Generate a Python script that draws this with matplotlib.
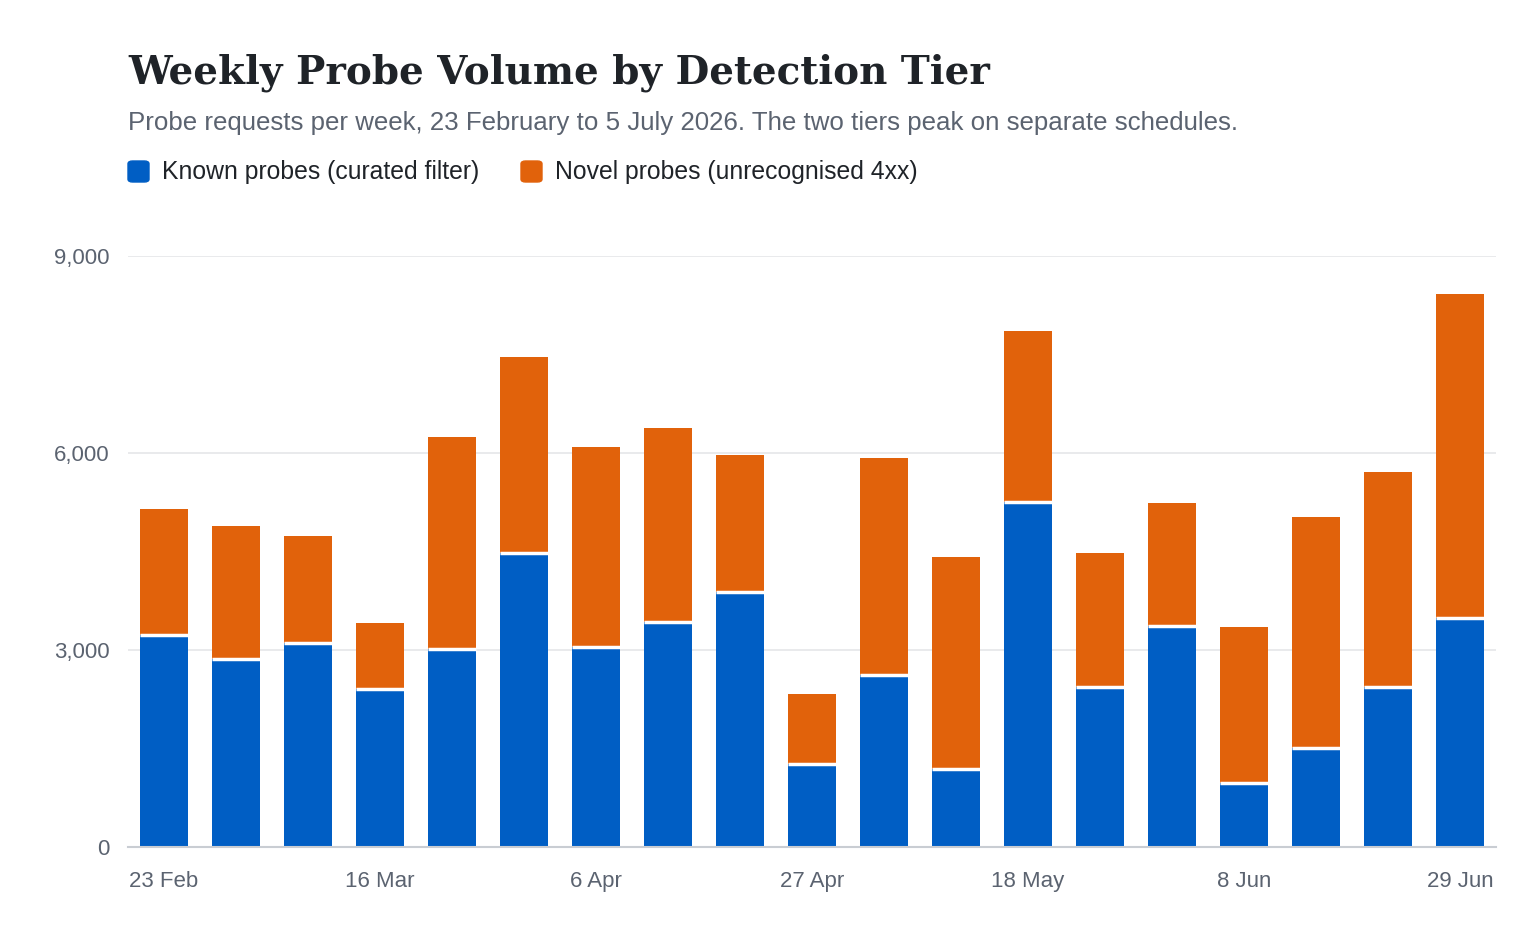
import matplotlib
matplotlib.use('Agg')
import matplotlib.pyplot as plt
from matplotlib.patches import FancyBboxPatch
from matplotlib.ticker import FuncFormatter

# weekly data
weeks = ['23 Feb', '2 Mar', '9 Mar', '16 Mar', '23 Mar', '30 Mar', '6 Apr', '13 Apr',
         '20 Apr', '27 Apr', '4 May', '11 May', '18 May', '25 May', '1 Jun', '8 Jun',
         '15 Jun', '22 Jun', '29 Jun']
known = [3230, 2870, 3110, 2400, 3010, 4470, 3050, 3430, 3890, 1270,
         2620, 1190, 5260, 2430, 3360, 980, 1510, 2440, 3490]
novel = [1920, 2020, 1630, 1010, 3230, 2990, 3040, 2950, 2080, 1060,
         3300, 3230, 2600, 2050, 1880, 2370, 3520, 3270, 4930]
yticks = [0, 3000, 6000, 9000]

BLUE = '#005ec4'
ORANGE = '#e1620b'
GREY = '#5b6370'
SANS = ['Liberation Sans', 'DejaVu Sans']

W, H = 1536, 940
fig = plt.figure(figsize=(W / 100, H / 100), dpi=100)
ax = fig.add_axes([128 / W, 1 - 847 / H, (1496 - 128) / W, (847 - 256) / H])

x = list(range(len(weeks)))
bw = 0.667
ax.bar(x, known, width=bw, color=BLUE, zorder=3)
ax.bar(x, novel, width=bw, bottom=known, color=ORANGE, zorder=3)
# thin white seam between the two tiers
ax.hlines(known, [i - bw / 2 for i in x], [i + bw / 2 for i in x],
          colors='white', linewidth=2.5, zorder=4)

ax.set_xlim(-0.5, len(weeks) - 0.5)
ax.set_ylim(0, 9000)
ax.set_yticks(yticks)
ax.yaxis.set_major_formatter(FuncFormatter(lambda v, p: f'{int(v):,}'))
ax.set_xticks(x[::3])
ax.set_xticklabels(weeks[::3])

for s in ['top', 'right', 'left']:
    ax.spines[s].set_visible(False)
ax.spines['bottom'].set_color('#c9cdd3')
ax.spines['bottom'].set_linewidth(1.5)
ax.spines['bottom'].set_zorder(5)
ax.grid(axis='y', color='#e7e8eb', linewidth=1.3, zorder=0)
ax.tick_params(axis='both', length=0, labelsize=16, labelcolor=GREY)
ax.tick_params(axis='y', pad=13)
ax.tick_params(axis='x', pad=17)
for lab in ax.get_xticklabels() + ax.get_yticklabels():
    lab.set_family(SANS)

# title / subtitle
fig.text(128 / W, 1 - 83 / H, 'Weekly Probe Volume by Detection Tier',
         family=['DejaVu Serif'], fontweight='bold',
         fontsize=28, color='#1f2328', va='baseline', ha='left')
fig.text(128 / W, 1 - 130 / H,
         'Probe requests per week, 23 February to 5 July 2026. The two tiers peak on separate schedules.',
         family=SANS, fontsize=18.6, color=GREY, va='baseline', ha='left')

# legend drawn by hand
for px, col, label in [(128, BLUE, 'Known probes (curated filter)'),
                       (521, ORANGE, 'Novel probes (unrecognised 4xx)')]:
    fig.add_artist(FancyBboxPatch((px / W, 1 - 182 / H), 21 / W, 21 / H,
                                  boxstyle='round,pad=0,rounding_size=0.003',
                                  transform=fig.transFigure, color=col))
    fig.text((px + 34) / W, 1 - 172 / H, label, family=SANS, fontsize=17.8,
             color='#1f2328', va='center', ha='left')

fig.savefig('out.png', dpi=100)
